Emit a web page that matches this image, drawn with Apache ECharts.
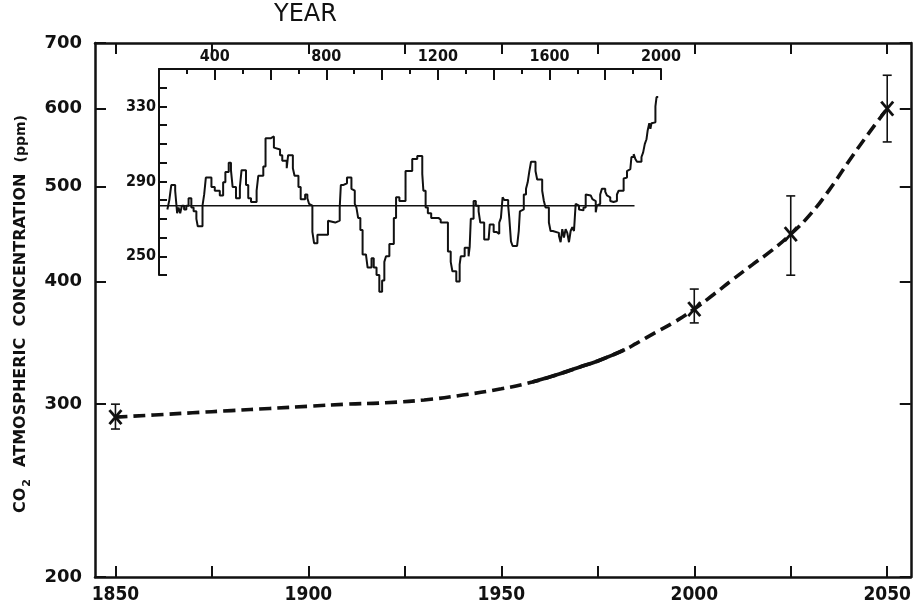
<!DOCTYPE html>
<html>
<head>
<meta charset="utf-8">
<title>CO2 atmospheric concentration</title>
<script src="https://cdn.jsdelivr.net/npm/echarts@6/dist/echarts.min.js"></script>
<style>
  html, body { margin: 0; padding: 0; background: #fff; }
  #chart { width: 914px; height: 610px; }
</style>
</head>
<body>
<div id="chart"></div>
<script>
// Main curve: CO2 concentration (ppm) by year, 1850-2050
const mainYears = [1850, 1860, 1870, 1880, 1890, 1900, 1910, 1920, 1930, 1940, 1950, 1958, 1965, 1970, 1975, 1982, 1985, 1990, 1995, 2000, 2005, 2010, 2015, 2020, 2025, 2030, 2035, 2040, 2045, 2050];
const mainPpm   = [291, 292.5, 294, 295.5, 297, 298.5, 300, 301, 303, 306.5, 311, 316, 322, 327, 332, 341, 346, 355, 364, 375, 388, 402, 416, 430, 447, 468, 496, 530, 565, 600];
// Measured record drawn solid
const measuredFrom = 1958;
const measuredTo = 1982;

// Marked estimates with their uncertainty ranges
const markYears = [1850, 2000, 2025, 2050];
const markPpm   = [291, 375, 447, 600];
const markLow   = [283, 363, 406, 555];
const markHigh  = [300, 393, 489, 649];

// Inset: ice-core record, step levels (start year, ppm)
const insetYears = [230, 237, 244, 258, 265, 270, 276, 282, 290, 298, 306, 316, 324, 334, 339, 356, 362, 368, 388, 400, 418, 430, 438, 450, 458, 464, 476, 490, 496, 512, 520, 530, 550, 556, 574, 582, 600, 612, 618, 634, 642, 658, 663, 680, 686, 700, 708, 724, 732, 738, 744, 750, 756, 768, 806, 813, 832, 848, 852, 860, 874, 890, 896, 902, 908, 914, 922, 930, 942, 948, 962, 970, 980, 990, 1000, 1008, 1014, 1026, 1042, 1050, 1062, 1084, 1108, 1126, 1144, 1148, 1156, 1164, 1176, 1202, 1210, 1236, 1246, 1252, 1266, 1278, 1282, 1296, 1310, 1314, 1318, 1328, 1336, 1346, 1352, 1366, 1382, 1386, 1400, 1410, 1420, 1426, 1432, 1438, 1452, 1456, 1462, 1468, 1484, 1490, 1494, 1498, 1508, 1516, 1522, 1528, 1534, 1550, 1556, 1574, 1580, 1586, 1598, 1604, 1612, 1634, 1640, 1646, 1652, 1658, 1664, 1670, 1676, 1682, 1688, 1694, 1700, 1706, 1712, 1722, 1730, 1736, 1748, 1754, 1760, 1766, 1770, 1776, 1782, 1788, 1800, 1806, 1812, 1818, 1824, 1830, 1836, 1842, 1848, 1866, 1872, 1878, 1884, 1890, 1894, 1902, 1908, 1914, 1930, 1936, 1942, 1948, 1952, 1958, 1962, 1966, 1972, 1980, 1984, 1990];
const insetPpm   = [275, 280, 288, 285, 273, 276, 273, 277, 275, 277, 281, 276, 274, 270, 266, 277, 283, 292, 287, 285, 282.5, 289.5, 295, 300, 296, 287, 281, 287, 296, 288, 281, 279, 285, 293, 298, 313, 314, 308, 307, 304, 301, 297, 304, 297, 293, 287, 280.5, 283, 281, 278, 277, 263, 257, 261.5, 269, 268, 269, 276, 288, 289, 292, 286, 285, 278, 276, 270.5, 264, 251, 250, 244, 249, 244, 240, 231, 237, 247, 250, 256.5, 270.5, 281.5, 279.5, 295.5, 302, 303.5, 294, 285, 276, 273, 270.5, 269.5, 268, 252.5, 247, 242, 236.5, 245.5, 250, 254.5, 250, 255, 270, 279.5, 277, 274, 268, 259, 258, 267, 263, 262, 268, 270.5, 281.5, 280, 277, 270.5, 258, 255.5, 256.5, 263.5, 274, 275, 283, 286, 289.5, 295.5, 300.5, 295.5, 291, 285, 279.5, 276, 268, 263.5, 262.5, 261, 257.5, 264.5, 260, 264.5, 262.5, 257.5, 263.5, 265.5, 263.5, 278, 277, 275, 274.5, 276, 283, 282.5, 281.5, 280.5, 279.5, 273.5, 277, 278, 283, 286, 284.5, 282.5, 281.5, 279.5, 279, 278, 279.5, 283, 285, 291.5, 292, 295.5, 296.5, 297.5, 303, 304.5, 302, 300.5, 303, 305.5, 310, 312.5, 317, 321, 318, 321, 321.5, 330, 335, 335];
// Inset reference level
const baselineYears = [200, 1905];
const baselinePpm = 277;

// Tick marks and labels
const mainXTicks  = [1850, 1875, 1900, 1925, 1950, 1975, 2000, 2025, 2050];
const mainXLabels = [1850, 1900, 1950, 2000, 2050];
const mainYTicks  = [200, 300, 400, 500, 600, 700];
const insetXLabelStep = 400;
const insetYLabels = [250, 290, 330];

const INK = '#111';
const NARROW = "'Liberation Sans Narrow', 'DejaVu Sans Condensed', 'Arial Narrow', sans-serif";
const WIDE = "'DejaVu Sans', 'Liberation Sans', sans-serif";

const mainData = mainYears.map((y, i) => [y, mainPpm[i]]);
const measuredData = mainData.filter(d => d[0] >= measuredFrom && d[0] <= measuredTo);
const markData = markYears.map((y, i) => [y, markLow[i], markHigh[i], markPpm[i]]);
const insetData = insetYears.map((y, i) => [y, insetPpm[i]]);
const baselineData = baselineYears.map(y => [y, baselinePpm]);

// Error bar with caps and an x-shaped marker at the estimate
function renderMark(params, api) {
  const x = api.value(0);
  const top = api.coord([x, api.value(2)]);
  const bot = api.coord([x, api.value(1)]);
  const c = api.coord([x, api.value(3)]);
  const cap = 4.5, ax = 6, ay = 7;
  const thin = { stroke: INK, lineWidth: 1.6, fill: null };
  const thick = { stroke: INK, lineWidth: 2.8, fill: null };
  return {
    type: 'group',
    children: [
      { type: 'line', shape: { x1: top[0], y1: top[1], x2: bot[0], y2: bot[1] }, style: thin },
      { type: 'line', shape: { x1: top[0] - cap, y1: top[1], x2: top[0] + cap, y2: top[1] }, style: thin },
      { type: 'line', shape: { x1: bot[0] - cap, y1: bot[1], x2: bot[0] + cap, y2: bot[1] }, style: thin },
      { type: 'line', shape: { x1: c[0] - ax, y1: c[1] - ay, x2: c[0] + ax, y2: c[1] + ay }, style: thick },
      { type: 'line', shape: { x1: c[0] - ax, y1: c[1] + ay, x2: c[0] + ax, y2: c[1] - ay }, style: thick }
    ]
  };
}

const frameLine = { show: true, onZero: false, lineStyle: { color: INK, width: 2.5 } };

const option = {
  animation: false,
  backgroundColor: '#fff',
  title: {
    text: 'YEAR',
    left: 274,
    top: 3,
    padding: 0,
    textStyle: { fontFamily: WIDE, fontSize: 24, fontWeight: 500, color: INK }
  },
  grid: [
    { left: 95, right: 3, top: 43, bottom: 33, containLabel: false },
    { left: 159, top: 69, width: 502, height: 206, containLabel: false }
  ],
  xAxis: [
    {
      type: 'value', gridIndex: 0, position: 'bottom',
      min: 1844.7, max: 2056.1,
      axisLine: frameLine,
      splitLine: { show: false },
      axisTick: { show: true, inside: true, length: 11, customValues: mainXTicks, lineStyle: { color: INK, width: 2 } },
      axisLabel: {
        show: true, customValues: mainXLabels, margin: 9,
        fontFamily: NARROW, fontWeight: 'bold', fontSize: 19, color: INK,
        formatter: v => String(v)
      }
    },
    {
      type: 'value', gridIndex: 0, position: 'top',
      min: 1844.7, max: 2056.1,
      axisLine: frameLine,
      splitLine: { show: false },
      axisTick: { show: true, inside: true, length: 11, customValues: mainXTicks, lineStyle: { color: INK, width: 2 } },
      axisLabel: { show: false }
    },
    {
      type: 'value', gridIndex: 1, position: 'top',
      min: 200, max: 2000, interval: 200,
      axisLine: { show: true, onZero: false, lineStyle: { color: INK, width: 2 } },
      splitLine: { show: false },
      axisTick: { show: true, inside: true, length: 11, lineStyle: { color: INK, width: 2 } },
      minorTick: { show: true, splitNumber: 2, length: 5, lineStyle: { color: INK, width: 2 } },
      axisLabel: {
        show: true, margin: 4, showMinLabel: true, showMaxLabel: true,
        fontFamily: NARROW, fontWeight: 'bold', fontSize: 16, color: INK,
        formatter: v => (v % insetXLabelStep === 0 ? String(v) : '')
      }
    }
  ],
  yAxis: [
    {
      type: 'log', gridIndex: 0, position: 'left',
      min: 200, max: 700, logBase: 10,
      axisLine: frameLine,
      splitLine: { show: false },
      minorTick: { show: false },
      axisTick: { show: true, inside: true, length: 11, customValues: mainYTicks, lineStyle: { color: INK, width: 2 } },
      axisLabel: {
        show: true, customValues: mainYTicks, margin: 13,
        fontFamily: WIDE, fontWeight: 'bold', fontSize: 18, color: INK,
        formatter: v => String(Math.round(v))
      },
      name: '{b|CO}{s|2}{b|  ATMOSPHERIC  CONCENTRATION  }{p|(ppm)}',
      nameLocation: 'middle',
      nameGap: 64,
      nameRotate: 90,
      nameTextStyle: {
        color: INK,
        padding: [0, 0, 0, -8],
        rich: {
          b: { fontFamily: WIDE, fontWeight: 'bold', fontSize: 16, color: INK, lineHeight: 20 },
          s: { fontFamily: WIDE, fontWeight: 'bold', fontSize: 11, color: INK, lineHeight: 20, verticalAlign: 'bottom', padding: [0, 1, -2, 1] },
          p: { fontFamily: WIDE, fontWeight: 'bold', fontSize: 14, color: INK, lineHeight: 20 }
        }
      }
    },
    {
      type: 'log', gridIndex: 0, position: 'right',
      min: 200, max: 700, logBase: 10,
      axisLine: frameLine,
      splitLine: { show: false },
      minorTick: { show: false },
      axisTick: { show: true, inside: true, length: 11, customValues: mainYTicks, lineStyle: { color: INK, width: 2 } },
      axisLabel: { show: false }
    },
    {
      type: 'value', gridIndex: 1, position: 'left',
      min: 240, max: 350, interval: 10,
      axisLine: { show: true, onZero: false, lineStyle: { color: INK, width: 2 } },
      splitLine: { show: false },
      axisTick: { show: true, inside: true, length: 8, lineStyle: { color: INK, width: 2 } },
      axisLabel: {
        show: true, margin: 3,
        fontFamily: NARROW, fontWeight: 'bold', fontSize: 16, color: INK,
        formatter: v => (insetYLabels.indexOf(v) >= 0 ? String(v) : '')
      }
    }
  ],
  series: [
    {
      name: 'projection',
      type: 'line', xAxisIndex: 0, yAxisIndex: 0,
      data: mainData,
      smooth: 0.5,
      showSymbol: false, silent: true,
      lineStyle: { color: INK, width: 3.6, type: [12, 6] }
    },
    {
      name: 'measured',
      type: 'line', xAxisIndex: 0, yAxisIndex: 0,
      data: measuredData,
      smooth: 0.5,
      showSymbol: false, silent: true,
      lineStyle: { color: INK, width: 3.6, type: 'solid' }
    },
    {
      name: 'estimates',
      type: 'custom', xAxisIndex: 0, yAxisIndex: 0,
      data: markData,
      encode: { x: 0, y: [1, 2, 3] },
      renderItem: renderMark,
      silent: true, z: 5
    },
    {
      name: 'ice core',
      type: 'line', xAxisIndex: 2, yAxisIndex: 2,
      data: insetData,
      step: 'end',
      clip: false,
      showSymbol: false, silent: true,
      lineStyle: { color: INK, width: 2 }
    },
    {
      name: 'baseline',
      type: 'line', xAxisIndex: 2, yAxisIndex: 2,
      data: baselineData,
      clip: false,
      showSymbol: false, silent: true,
      lineStyle: { color: INK, width: 1.6 }
    }
  ]
};

const chart = echarts.init(document.getElementById('chart'), null, { renderer: 'canvas' });
chart.setOption(option);
</script>
</body>
</html>
